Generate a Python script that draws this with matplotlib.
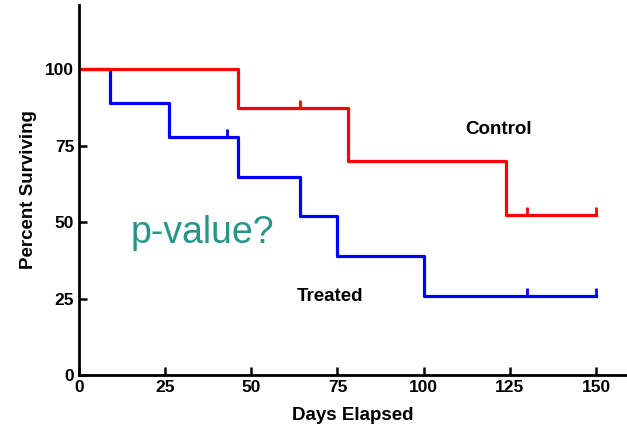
import matplotlib
matplotlib.use("Agg")
import matplotlib.pyplot as plt

# Kaplan-Meier step data
control_days = [0, 46, 78, 124, 150]
control_surv = [100, 87.5, 70, 52.5, 52.5]
control_cens_days = [64, 130, 150]
control_cens_surv = [87.5, 52.5, 52.5]

treated_days = [0, 9, 26, 46, 64, 75, 100, 150]
treated_surv = [100, 88.9, 77.8, 64.8, 51.9, 38.9, 25.9, 25.9]
treated_cens_days = [43, 130, 150]
treated_cens_surv = [77.8, 25.9, 25.9]

xticks = [0, 25, 50, 75, 100, 125, 150]
yticks = [0, 25, 50, 75, 100]

plt.rcParams['font.family'] = ['Liberation Sans', 'DejaVu Sans']

fig = plt.figure(figsize=(6.27, 4.30), dpi=100)
ax = fig.add_axes([0.126, 0.128, 0.874, 0.860])

# treated first so the red line sits on top where they overlap
ax.step(treated_days, treated_surv, where='post', color='#0000ff', lw=2.3)
ax.vlines(treated_cens_days, treated_cens_surv,
          [s + 2.6 for s in treated_cens_surv], color='#0000ff', lw=2)
ax.step(control_days, control_surv, where='post', color='#ff0000', lw=2.3)
ax.vlines(control_cens_days, control_cens_surv,
          [s + 2.6 for s in control_cens_surv], color='#ff0000', lw=2)

ax.text(121.7, 80.4, "Control", fontsize=13.5, fontweight='bold', ha='center', va='center')
ax.text(72.8, 25.8, "Treated", fontsize=13.5, fontweight='bold', ha='center', va='center')
ax.text(35.8, 46.4, "p-value?", fontsize=27, color='#26968a', ha='center', va='center')

ax.set_xlim(0, 159)
ax.set_ylim(0, 121)
ax.set_xticks(xticks)
ax.set_yticks(yticks)
ax.tick_params(direction='in', length=6, width=1.8, labelsize=12.5)
for lab in ax.get_xticklabels() + ax.get_yticklabels():
    lab.set_fontweight('bold')
ax.spines['top'].set_visible(False)
ax.spines['right'].set_visible(False)
ax.spines['left'].set_linewidth(2)
ax.spines['bottom'].set_linewidth(2)

ax.set_xlabel("Days Elapsed", fontsize=13.5, fontweight='bold', labelpad=9)
ax.set_ylabel("Percent Surviving", fontsize=13.5, fontweight='bold', labelpad=6)

fig.savefig("out.png", dpi=100)
